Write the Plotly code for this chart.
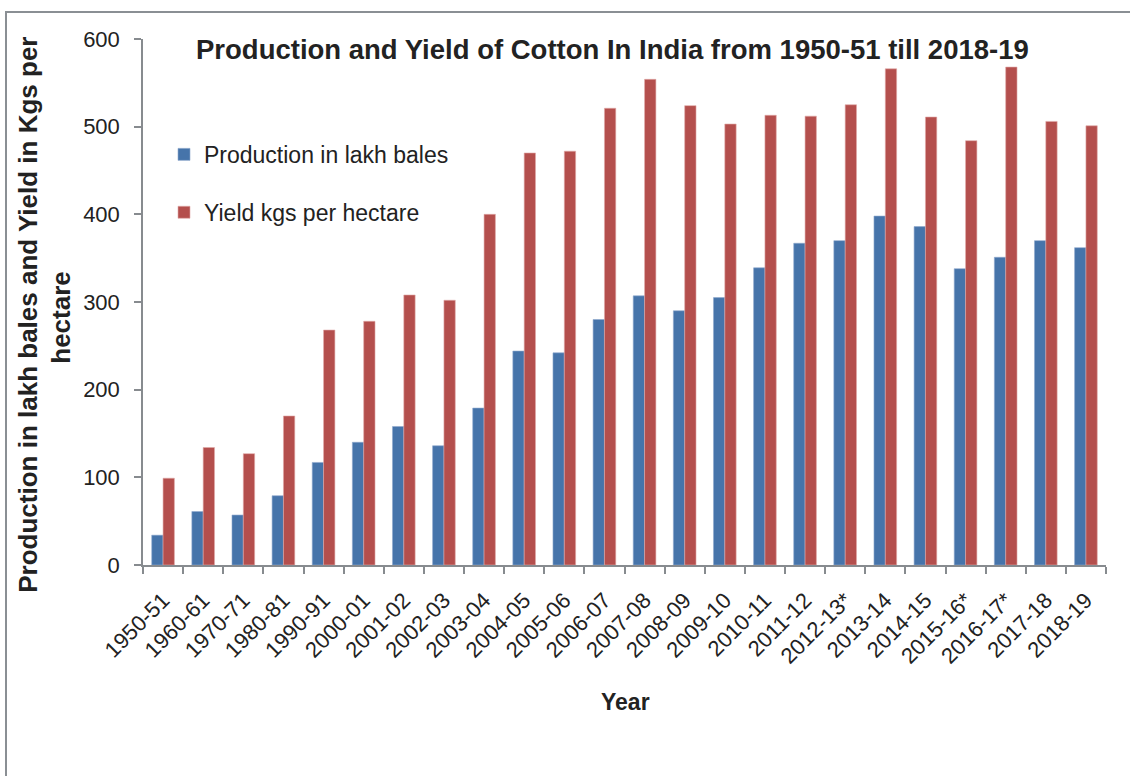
import plotly.graph_objects as go

years = ["1950-51", "1960-61", "1970-71", "1980-81", "1990-91", "2000-01", "2001-02",
         "2002-03", "2003-04", "2004-05", "2005-06", "2006-07", "2007-08", "2008-09",
         "2009-10", "2010-11", "2011-12", "2012-13*", "2013-14", "2014-15", "2015-16*",
         "2016-17*", "2017-18", "2018-19"]
production = [34, 61, 57, 79, 117, 140, 158, 136, 179, 244, 242, 280, 307, 290,
              305, 339, 367, 370, 398, 386, 338, 351, 370, 362]
yield_kg = [99, 134, 127, 170, 268, 278, 308, 302, 400, 470, 472, 521, 554, 524,
            503, 513, 512, 525, 566, 511, 484, 568, 506, 501]
y_ticks = [0, 100, 200, 300, 400, 500, 600]

W, H = 1130, 776
L, R, T, B = 143, 1106, 39, 565.5


def px(x):
    return (x - L) / (R - L)


def py(y):
    return (B - y) / (B - T)


FONT = "Liberation Sans, Arial, sans-serif"
AXC = "#878b8f"
TXT = "#222222"

fig = go.Figure()
fig.add_trace(go.Bar(x=years, y=production, name="Production in lakh bales",
                     marker=dict(color="#4674aa", line=dict(color="#8fa8cc", width=0.6)),
                     legendgroup="a"))
fig.add_trace(go.Bar(x=years, y=yield_kg, name="Yield kgs per hectare",
                     marker=dict(color="#b44f4d", line=dict(color="#e0a9a7", width=0.6)),
                     legendgroup="b"))

fig.update_layout(
    width=W, height=H,
    margin=dict(l=L, r=W - R, t=T, b=H - B, autoexpand=False),
    paper_bgcolor="white", plot_bgcolor="white",
    barmode="group", bargap=0.435, bargroupgap=0,
    font=dict(family=FONT, color=TXT, size=20),
    showlegend=True,
    legend=dict(x=px(164), y=py(133), xanchor="left", yanchor="top",
                font=dict(size=23, family=FONT, color=TXT),
                bgcolor="rgba(0,0,0,0)", tracegroupgap=25, itemwidth=30),
    xaxis=dict(type="category", showline=True, linecolor=AXC, linewidth=1.5,
               ticks="outside", ticklen=7, tickcolor=AXC, tickwidth=1.5,
               tickson="boundaries", tickangle=-45, showgrid=False,
               tickfont=dict(size=22, family=FONT, color=TXT),
               ticklabelstandoff=12,
               range=[-0.5, len(years) - 0.5]),
    yaxis=dict(range=[0, 600], tickvals=y_ticks, showline=True, linecolor=AXC,
               linewidth=1.5, ticks="outside", ticklen=7, tickcolor=AXC, tickwidth=1.5,
               showgrid=False, zeroline=False,
               tickfont=dict(size=22, family=FONT, color=TXT),
               ticklabelstandoff=10),
    annotations=[
        dict(text="<b>Production and Yield of Cotton In India from 1950-51 till 2018-19</b>",
             x=px(612), y=py(50), xref="paper", yref="paper", showarrow=False,
             xanchor="center", yanchor="middle",
             font=dict(size=27.5, family=FONT, color=TXT)),
        dict(text="<b>Production in lakh bales and Yield in Kgs per</b>",
             x=px(28), y=py(315), xref="paper", yref="paper", showarrow=False,
             xanchor="center", yanchor="middle", textangle=-90,
             font=dict(size=26, family=FONT, color=TXT)),
        dict(text="<b>hectare</b>",
             x=px(61), y=py(318), xref="paper", yref="paper", showarrow=False,
             xanchor="center", yanchor="middle", textangle=-90,
             font=dict(size=26, family=FONT, color=TXT)),
        dict(text="<b>Year</b>", x=px(625), y=py(703), xref="paper", yref="paper",
             showarrow=False, xanchor="center", yanchor="middle",
             font=dict(size=23, family=FONT, color=TXT)),
    ],
    shapes=[
        dict(type="rect", xref="paper", yref="paper",
             x0=px(6), x1=px(1200), y0=py(900), y1=py(12),
             line=dict(color="#8a8f94", width=2), fillcolor="rgba(0,0,0,0)", layer="below"),
    ],
)

fig.write_html("out.html")
